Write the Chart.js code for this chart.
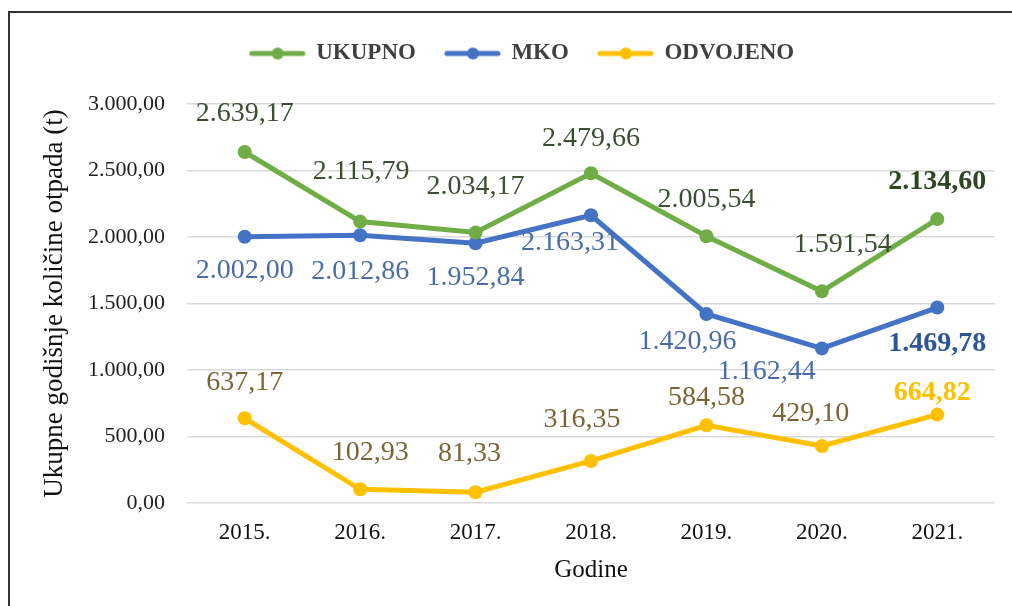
<!DOCTYPE html>
<html>
<head>
<meta charset="utf-8">
<script src="https://cdn.jsdelivr.net/npm/chart.js@4"></script>
<style>
  html, body { margin: 0; padding: 0; background: #fff; }
  #wrap { position: relative; width: 1012px; height: 606px; overflow: hidden; }
  #frame { position: absolute; left: 8px; top: 11px; width: 1100px; height: 700px;
           border-top: 2px solid #333; border-left: 2px solid #333; }
  canvas { position: absolute; left: 0; top: 0; }
</style>
</head>
<body>
<div id="wrap">
  <div id="frame"></div>
  <canvas id="wasteChart" width="1012" height="606"></canvas>
</div>
<script>
// Podaci
const years = ['2015.', '2016.', '2017.', '2018.', '2019.', '2020.', '2021.'];
const ukupno = [2639.17, 2115.79, 2034.17, 2479.66, 2005.54, 1591.54, 2134.60];
const mko = [2002.00, 2012.86, 1952.84, 2163.31, 1420.96, 1162.44, 1469.78];
const odvojeno = [637.17, 102.93, 81.33, 316.35, 584.58, 429.10, 664.82];
const yTicks = [0, 500, 1000, 1500, 2000, 2500, 3000];

// pomaci oznaka (px) u odnosu na tocku
const labelShift = {
    ukupno:   [[0, -38], [1, -50], [0, -46], [0, -35], [0, -37], [21, -47], [0, -37]],
    mko:      [[0, 34], [0, 36], [0, 34], [-21, 27], [-19, 28], [-55, 23], [0, 36]],
    odvojeno: [[0, -36], [10, -37], [-6, -39], [-9, -41], [0, -28], [-11, -32], [-5, -22]]
};

const FONT = "'Liberation Serif', 'Times New Roman', serif";

// broj u formatu 2.639,17
function fmt(v) {
    const parts = v.toFixed(2).split('.');
    parts[0] = parts[0].replace(/\B(?=(\d{3})+(?!\d))/g, '.');
    return parts.join(',');
}

// simbol legende: linija s tockom
function legendIcon(color) {
    const c = document.createElement('canvas');
    c.width = 62;
    c.height = 14;
    const g = c.getContext('2d');
    g.strokeStyle = color;
    g.lineWidth = 5;
    g.lineCap = 'round';
    g.beginPath();
    g.moveTo(7, 7);
    g.lineTo(58, 7);
    g.stroke();
    g.fillStyle = color;
    g.beginPath();
    g.arc(33, 7, 6, 0, Math.PI * 2);
    g.fill();
    return c;
}

// oznake vrijednosti
const valueLabels = {
    id: 'valueLabels',
    afterDatasetsDraw(chart) {
        const ctx = chart.ctx;
        chart.data.datasets.forEach((ds, di) => {
            const meta = chart.getDatasetMeta(di);
            meta.data.forEach((pt, i) => {
                const last = i === ds.data.length - 1;
                const shift = ds.labelShift[i];
                ctx.save();
                ctx.font = (last ? 'bold ' : '') + '28px ' + FONT;
                ctx.fillStyle = last ? ds.lastLabelColor : ds.labelColor;
                ctx.textAlign = 'center';
                ctx.textBaseline = 'middle';
                ctx.fillText(fmt(ds.data[i]), pt.x + shift[0], pt.y + shift[1]);
                ctx.restore();
            });
        });
    }
};

function series(label, data, color, labelColor, lastLabelColor, shift) {
    return {
        label: label,
        data: data,
        borderColor: color,
        backgroundColor: color,
        borderWidth: 5,
        pointRadius: 7,
        pointStyle: 'circle',
        pointBackgroundColor: color,
        pointBorderWidth: 0,
        tension: 0,
        legendIcon: legendIcon(color),
        labelColor: labelColor,
        lastLabelColor: lastLabelColor,
        labelShift: shift
    };
}

const ctx = document.getElementById('wasteChart').getContext('2d');
new Chart(ctx, {
    type: 'line',
    data: {
        labels: years,
        datasets: [
            series('UKUPNO', ukupno, '#70AD47', '#3C4F32', '#2E4622', labelShift.ukupno),
            series('MKO', mko, '#4472C4', '#4A6DA8', '#2F5597', labelShift.mko),
            series('ODVOJENO', odvojeno, '#FFC000', '#7A6535', '#FFC000', labelShift.odvojeno)
        ]
    },
    options: {
        responsive: false,
        animation: false,
        layout: { padding: { left: 46, right: 17, top: 16, bottom: 10 } },
        plugins: {
            tooltip: { enabled: false },
            subtitle: {
                // razmak izmedu legende i grafa
                display: true,
                text: '',
                weight: 500,
                font: { size: 10, lineHeight: 1 },
                padding: { top: 10, bottom: 9 }
            },
            legend: {
                position: 'top',
                labels: {
                    usePointStyle: true,
                    pointStyleWidth: 58,
                    padding: 26,
                    color: '#404040',
                    font: { family: FONT, size: 23, weight: 'bold' },
                    generateLabels(chart) {
                        return chart.data.datasets.map((ds, i) => ({
                            text: ds.label,
                            pointStyle: ds.legendIcon,
                            fillStyle: ds.borderColor,
                            strokeStyle: ds.borderColor,
                            lineWidth: 0,
                            fontColor: '#404040',
                            datasetIndex: i
                        }));
                    }
                }
            }
        },
        scales: {
            x: {
                offset: true,
                afterFit(scale) {
                    scale.height = 93;
                },
                grid: { display: false, drawTicks: false },
                border: { display: false },
                ticks: { color: '#111', padding: 16, font: { family: FONT, size: 23 } },
                title: {
                    display: true,
                    text: 'Godine',
                    color: '#111',
                    padding: { top: 0, bottom: 11 },
                    font: { family: FONT, size: 25 }
                }
            },
            y: {
                min: 0,
                max: 3000,
                afterBuildTicks(scale) {
                    scale.ticks = yTicks.map(v => ({ value: v }));
                },
                afterFit(scale) {
                    scale.width = 141;
                },
                grid: { color: '#D9D9D9', lineWidth: 1.5, drawTicks: false },
                border: { display: false },
                ticks: {
                    color: '#222',
                    padding: 22,
                    font: { family: FONT, size: 22 },
                    callback: v => fmt(v)
                },
                title: {
                    display: true,
                    text: 'Ukupne godišnje količine otpada (t)',
                    color: '#111',
                    padding: { top: -7, bottom: 0 },
                    font: { family: FONT, size: 27 }
                }
            }
        }
    },
    plugins: [valueLabels]
});
</script>
</body>
</html>
